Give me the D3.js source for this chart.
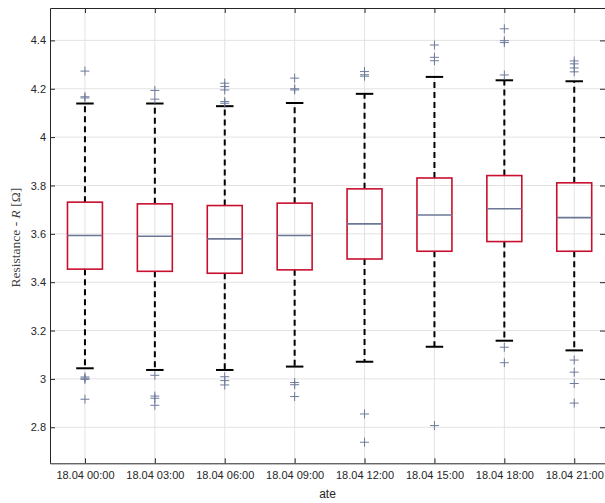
<!DOCTYPE html>
<html lang="en">
<head>
<meta charset="utf-8">
<title>Resistance boxplot</title>
<script src="https://d3js.org/d3.v7.min.js"></script>
<style>
  body { margin: 0; background: #fff; }
  .tick text { font-family: "Liberation Sans", Arial, sans-serif; font-size: 11px; fill: #262626; }
</style>
</head>
<body>
<div id="chart"></div>
<script>
// categories (3-hour slots)
var categories = ["18.04 00:00", "18.04 03:00", "18.04 06:00", "18.04 09:00",
                  "18.04 12:00", "18.04 15:00", "18.04 18:00", "18.04 21:00"];
// box statistics
var q1      = [3.454, 3.445, 3.437, 3.451, 3.496, 3.528, 3.568, 3.528];
var medians = [3.593, 3.590, 3.579, 3.593, 3.641, 3.678, 3.704, 3.667];
var q3      = [3.731, 3.724, 3.717, 3.727, 3.786, 3.831, 3.841, 3.811];
var whiskLo = [3.044, 3.037, 3.037, 3.051, 3.071, 3.133, 3.158, 3.118];
var whiskHi = [4.139, 4.139, 4.128, 4.141, 4.179, 4.249, 4.235, 4.231];
var outliers = [
  [4.273, 4.167, 4.162, 3.008, 3.003, 2.998, 2.916],
  [4.193, 4.157, 3.015, 2.929, 2.920, 2.891],
  [4.223, 4.209, 4.195, 4.147, 4.140, 3.009, 2.993, 2.975],
  [4.244, 4.200, 4.195, 2.985, 2.976, 2.927],
  [4.271, 4.258, 4.252, 2.855, 2.738],
  [4.381, 4.330, 4.316, 2.807],
  [4.448, 4.399, 4.391, 4.257, 3.131, 3.067],
  [4.315, 4.303, 4.286, 4.270, 3.078, 3.028, 2.981, 2.900]
];
var yTicks = [2.8, 3, 3.2, 3.4, 3.6, 3.8, 4, 4.2, 4.4];

var w = 605, h = 503;
var pLeft = 50, pRight = 605, pTop = 8, pBottom = 463.3;

var svg = d3.select("#chart").append("svg")
  .attr("width", w).attr("height", h);

var x = d3.scaleLinear().domain([0.5, 8.44]).range([pLeft, pRight]);
var y = d3.scaleLinear().domain([2.651, 4.534]).range([pBottom, pTop]);
var idx = d3.range(1, categories.length + 1);

// grid
svg.append("g").selectAll("line").data(yTicks).enter().append("line")
  .attr("x1", pLeft).attr("x2", pRight)
  .attr("y1", function(d) { return y(d); }).attr("y2", function(d) { return y(d); })
  .attr("stroke", "#e3e3e3").attr("stroke-width", 1);
svg.append("g").selectAll("line").data(idx).enter().append("line")
  .attr("y1", pTop).attr("y2", pBottom)
  .attr("x1", function(d) { return x(d); }).attr("x2", function(d) { return x(d); })
  .attr("stroke", "#e3e3e3").attr("stroke-width", 1);

// axes (ticks point inward)
var fmtCat = function(d) { return categories[d - 1]; };
var gL = svg.append("g").attr("transform", "translate(" + pLeft + ",0)")
  .call(d3.axisLeft(y).tickValues(yTicks).tickSize(-5).tickPadding(4).tickSizeOuter(0)
        .tickFormat(function(d) { return d3.format("")(+d.toFixed(1)); }));
var gR = svg.append("g").attr("transform", "translate(" + pRight + ",0)")
  .call(d3.axisRight(y).tickValues(yTicks).tickSize(-5).tickSizeOuter(0).tickFormat(""));
var gB = svg.append("g").attr("transform", "translate(0," + pBottom + ")")
  .call(d3.axisBottom(x).tickValues(idx).tickSize(-5).tickPadding(8).tickSizeOuter(0).tickFormat(fmtCat));
var gT = svg.append("g").attr("transform", "translate(0," + pTop + ")")
  .call(d3.axisTop(x).tickValues(idx).tickSize(-5).tickSizeOuter(0).tickFormat(""));
[gL, gR, gB, gT].forEach(function(g) {
  g.select(".domain").attr("stroke", "#262626").attr("stroke-width", 1);
  g.selectAll(".tick line").attr("stroke", "#262626");
});

var bw = (x(1.25) - x(0.75));
var cw = bw / 2;

var boxes = svg.append("g").selectAll("g").data(idx).enter().append("g");

// whiskers (dashed)
boxes.append("line")
  .attr("x1", function(d) { return x(d); }).attr("x2", function(d) { return x(d); })
  .attr("y1", function(d) { return y(q3[d - 1]); }).attr("y2", function(d) { return y(whiskHi[d - 1]); })
  .attr("stroke", "#000").attr("stroke-width", 2).attr("stroke-dasharray", "6,4");
boxes.append("line")
  .attr("x1", function(d) { return x(d); }).attr("x2", function(d) { return x(d); })
  .attr("y1", function(d) { return y(q1[d - 1]); }).attr("y2", function(d) { return y(whiskLo[d - 1]); })
  .attr("stroke", "#000").attr("stroke-width", 2).attr("stroke-dasharray", "6,4");
// caps
boxes.append("line")
  .attr("x1", function(d) { return x(d) - cw / 2; }).attr("x2", function(d) { return x(d) + cw / 2; })
  .attr("y1", function(d) { return y(whiskHi[d - 1]); }).attr("y2", function(d) { return y(whiskHi[d - 1]); })
  .attr("stroke", "#000").attr("stroke-width", 2);
boxes.append("line")
  .attr("x1", function(d) { return x(d) - cw / 2; }).attr("x2", function(d) { return x(d) + cw / 2; })
  .attr("y1", function(d) { return y(whiskLo[d - 1]); }).attr("y2", function(d) { return y(whiskLo[d - 1]); })
  .attr("stroke", "#000").attr("stroke-width", 2);
// box
boxes.append("rect")
  .attr("x", function(d) { return x(d) - bw / 2; })
  .attr("width", bw)
  .attr("y", function(d) { return y(q3[d - 1]); })
  .attr("height", function(d) { return y(q1[d - 1]) - y(q3[d - 1]); })
  .attr("fill", "none").attr("stroke", "#c8102e").attr("stroke-width", 1.6);
// median
boxes.append("line")
  .attr("x1", function(d) { return x(d) - bw / 2; }).attr("x2", function(d) { return x(d) + bw / 2; })
  .attr("y1", function(d) { return y(medians[d - 1]); }).attr("y2", function(d) { return y(medians[d - 1]); })
  .attr("stroke", "#6b7794").attr("stroke-width", 1.6);
// outliers as '+'
var pts = [];
outliers.forEach(function(arr, i) { arr.forEach(function(v) { pts.push([i + 1, v]); }); });
var s = 4.5;
svg.append("g").selectAll("path").data(pts).enter().append("path")
  .attr("d", function(p) {
    var cx = x(p[0]), cy = y(p[1]);
    return "M" + (cx - s) + "," + cy + "H" + (cx + s) + "M" + cx + "," + (cy - s) + "V" + (cy + s);
  })
  .attr("stroke", "#6e7b9c").attr("stroke-width", 1).attr("fill", "none");

// axis labels
svg.append("text")
  .attr("x", (pLeft + pRight) / 2).attr("y", 498)
  .attr("text-anchor", "middle")
  .style("font-family", "Liberation Sans, Arial, sans-serif").style("font-size", "12px")
  .attr("fill", "#262626")
  .text("ate");

var yl = svg.append("text")
  .attr("transform", "translate(20," + (((pTop + pBottom) / 2) + 2) + ") rotate(-90)")
  .attr("text-anchor", "middle")
  .style("font-family", "Liberation Serif, serif").style("font-size", "13.5px")
  .attr("fill", "#404040");
yl.append("tspan").text("Resistance - ");
yl.append("tspan").style("font-style", "italic").text("R");
yl.append("tspan").text(" [\u03A9]");
</script>
</body>
</html>
